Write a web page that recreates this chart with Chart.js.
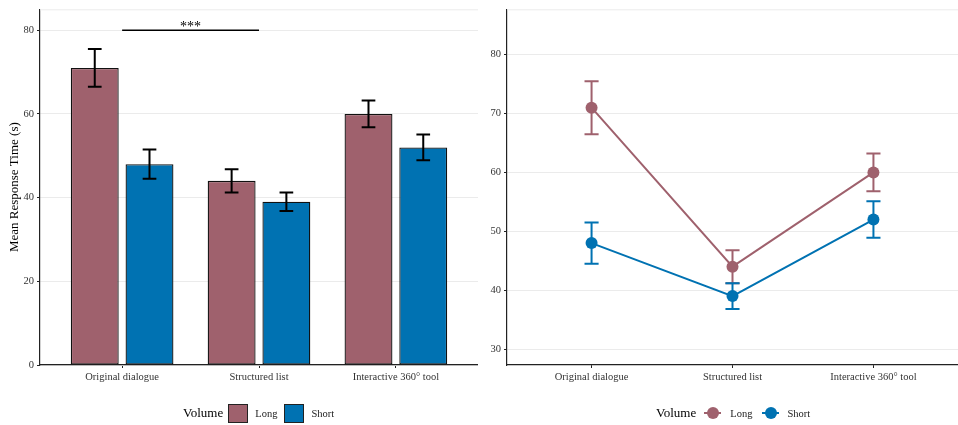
<!DOCTYPE html>
<html>
<head>
<meta charset="utf-8">
<script src="https://cdn.jsdelivr.net/npm/chart.js@4.4.1/dist/chart.umd.min.js"></script>
<style>
  body { margin: 0; background: #fff; }
  #wrap { position: relative; width: 958px; height: 425px; font-family: "Liberation Serif", "Times New Roman", serif; }
  .panel { position: absolute; top: 0; }
  #leftPanel { left: 0; }
  #rightPanel { left: 478px; }
  .legend { position: absolute; top: 402px; height: 22px; display: flex; align-items: center; font-size: 10.5px; color: #222; }
  .legend .ttl { font-size: 13px; color: #000; }
  .legend .box { width: 18px; height: 17px; border: 1px solid #222; }
  .legend .mark { position: relative; width: 17px; height: 12px; }
  .legend .mark .ln { position: absolute; left: 0; right: 0; top: 5px; height: 2px; }
  .legend .mark .pt { position: absolute; left: 2.5px; top: 0; width: 12px; height: 12px; border-radius: 50%; }
</style>
</head>
<body>
<div id="wrap">
  <div class="panel" id="leftPanel"><canvas id="barChart" width="478" height="425"></canvas></div>
  <div class="panel" id="rightPanel"><canvas id="lineChart" width="480" height="425"></canvas></div>

  <div class="legend" style="left:183px">
    <span class="ttl" style="margin-right:5px">Volume</span>
    <span class="box" style="background:#9F616D;margin-right:7px"></span>
    <span style="margin-right:7px">Long</span>
    <span class="box" style="background:#0072B2;margin-right:7px"></span>
    <span>Short</span>
  </div>

  <div class="legend" style="left:656px">
    <span class="ttl" style="margin-right:8px">Volume</span>
    <span class="mark" style="margin-right:9px"><span class="ln" style="background:#9F616D"></span><span class="pt" style="background:#9F616D"></span></span>
    <span style="margin-right:10px">Long</span>
    <span class="mark" style="margin-right:8px"><span class="ln" style="background:#0072B2"></span><span class="pt" style="background:#0072B2"></span></span>
    <span>Short</span>
  </div>
</div>

<script>
// data
const categories = ["Original dialogue", "Structured list", "Interactive 360\u00b0 tool"];
const longMeans = [71, 44, 60];
const shortMeans = [48, 39, 52];
const longErr = [4.5, 2.8, 3.2];
const shortErr = [3.5, 2.2, 3.1];
const barTicks = [0, 20, 40, 60, 80];
const lineTicks = [30, 40, 50, 60, 70, 80];
// significance bracket between first two groups
const sigFrom = 0;
const sigTo = 1;
const sigY = 80;
const sigLabel = "***";

const longColor = "#9F616D";
const shortColor = "#0072B2";
const serif = "'Liberation Serif', 'Times New Roman', serif";
const tickFont = { family: serif, size: 10.5 };
const axisDark = "#222";

const toPoints = (vals) => vals.map((v, i) => ({ x: i, y: v }));

// draws mean +/- err whiskers for every dataset
function errorBars(errs, colorFor, hook) {
  const p = { id: "errorBars" };
  p[hook] = (chart) => {
    const ctx = chart.ctx;
    const xs = chart.scales.x, ys = chart.scales.y;
    const half = xs.getPixelForValue(0.05) - xs.getPixelForValue(0);
    chart.data.datasets.forEach((ds, d) => {
      const meta = chart.getDatasetMeta(d);
      meta.data.forEach((el, i) => {
        const v = ds.data[i].y, e = errs[d][i];
        const yHi = ys.getPixelForValue(v + e), yLo = ys.getPixelForValue(v - e);
        ctx.save();
        ctx.strokeStyle = colorFor(d);
        ctx.lineWidth = 2;
        ctx.beginPath();
        ctx.moveTo(el.x, yHi); ctx.lineTo(el.x, yLo);
        ctx.moveTo(el.x - half, yHi); ctx.lineTo(el.x + half, yHi);
        ctx.moveTo(el.x - half, yLo); ctx.lineTo(el.x + half, yLo);
        ctx.stroke();
        ctx.restore();
      });
    });
  };
  return p;
}

const topRule = {
  id: "topRule",
  beforeDatasetsDraw(chart) {
    const { ctx, chartArea } = chart;
    ctx.save();
    ctx.strokeStyle = "#EBEBEB";
    ctx.lineWidth = 1;
    ctx.beginPath();
    ctx.moveTo(chartArea.left, chartArea.top + 0.5);
    ctx.lineTo(chartArea.right, chartArea.top + 0.5);
    ctx.stroke();
    ctx.restore();
  }
};

const sigBracket = {
  id: "sigBracket",
  afterDatasetsDraw(chart) {
    const ctx = chart.ctx;
    const xs = chart.scales.x, ys = chart.scales.y;
    const x1 = xs.getPixelForValue(sigFrom), x2 = xs.getPixelForValue(sigTo);
    const y = ys.getPixelForValue(sigY);
    ctx.save();
    ctx.strokeStyle = "#000";
    ctx.lineWidth = 1.6;
    ctx.beginPath();
    ctx.moveTo(x1, y); ctx.lineTo(x2, y);
    ctx.stroke();
    ctx.fillStyle = "#000";
    ctx.font = "14px " + serif;
    ctx.textAlign = "center";
    ctx.textBaseline = "alphabetic";
    ctx.fillText(sigLabel, (x1 + x2) / 2, y + 1);
    ctx.restore();
  }
};

function xAxis() {
  return {
    type: "linear", min: -0.6, max: 2.6, offset: false,
    afterBuildTicks: (s) => { s.ticks = categories.map((c, i) => ({ value: i })); },
    afterFit: (s) => { s.height = 60; },
    ticks: { callback: (v) => categories[v], font: tickFont, color: "#333", padding: 3, maxRotation: 0, autoSkip: false },
    grid: { offset: false, drawOnChartArea: false, tickLength: 3, tickColor: axisDark, tickWidth: 1 },
    border: { color: axisDark, width: 1.2 }
  };
}

function yAxis(min, max, tickVals, width, extra) {
  return Object.assign({
    min: min, max: max,
    afterBuildTicks: (s) => { s.ticks = tickVals.map((v) => ({ value: v })); },
    afterFit: (s) => { s.width = width; },
    ticks: { font: tickFont, color: "#333", padding: 3 },
    grid: { color: "#EBEBEB", lineWidth: 1, tickLength: 3, tickColor: axisDark, tickWidth: 1 },
    border: { color: axisDark, width: 1.2 }
  }, extra || {});
}

const common = {
  responsive: false,
  animation: false,
  layout: { autoPadding: false, padding: { top: 5, right: 0, bottom: 0, left: 0 } },
  plugins: { legend: { display: false }, tooltip: { enabled: false } }
};

new Chart(document.getElementById("barChart"), {
  type: "bar",
  data: {
    datasets: [
      { label: "Long", data: toPoints(longMeans), backgroundColor: longColor },
      { label: "Short", data: toPoints(shortMeans), backgroundColor: shortColor }
    ].map((d) => Object.assign(d, {
      borderColor: "#111", borderWidth: 1.3, borderSkipped: false,
      categoryPercentage: 0.8, barPercentage: 0.875
    }))
  },
  options: Object.assign({}, common, {
    scales: {
      x: xAxis(),
      y: yAxis(0, 85, barTicks, 40, {
        title: { display: true, text: "Mean Response Time (s)", font: { family: serif, size: 13 }, color: "#000", padding: { top: 7, bottom: 0 } }
      })
    }
  }),
  plugins: [topRule, errorBars([longErr, shortErr], () => "#000", "afterDatasetsDraw"), sigBracket]
});

const lineColors = [longColor, shortColor];
new Chart(document.getElementById("lineChart"), {
  type: "line",
  data: {
    datasets: [
      { label: "Long", data: toPoints(longMeans) },
      { label: "Short", data: toPoints(shortMeans) }
    ].map((d, i) => Object.assign(d, {
      borderColor: lineColors[i], backgroundColor: lineColors[i],
      pointBackgroundColor: lineColors[i], pointBorderWidth: 0,
      borderWidth: 2, pointRadius: 6, tension: 0, fill: false
    }))
  },
  options: Object.assign({}, common, {
    scales: {
      x: xAxis(),
      y: yAxis(27.3, 87.7, lineTicks, 29)
    }
  }),
  plugins: [topRule, errorBars([longErr, shortErr], (d) => lineColors[d], "beforeDatasetsDraw")]
});
</script>
</body>
</html>
